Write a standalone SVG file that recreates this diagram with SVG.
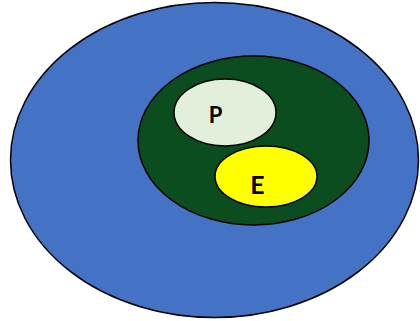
<svg xmlns="http://www.w3.org/2000/svg" width="420" height="321" viewBox="0 0 420 321">
<style>
.e{stroke:#000;stroke-width:1.5}
.t{font-family:Lato,"Liberation Sans",sans-serif;font-weight:bold;fill:#000;text-anchor:middle}
</style>
<rect width="420" height="321" fill="#fff"/>
<g id="outer"><ellipse class="e" cx="214.5" cy="160" rx="204" ry="157.5" fill="#4472C4"/></g>
<g id="inner"><ellipse class="e" cx="253.5" cy="140.5" rx="115.5" ry="84.5" fill="#0B4D1F"/></g>
<g id="P"><ellipse class="e" cx="225" cy="112.5" rx="51" ry="33.5" fill="#E2EFDA"/><text class="t" x="215.5" y="123" font-size="22">P</text></g>
<g id="E"><ellipse class="e" cx="266" cy="176.5" rx="51" ry="30.5" fill="#FFFF00"/><text class="t" x="257.5" y="194" font-size="25">E</text></g>
<g id="connectors"/>
</svg>
